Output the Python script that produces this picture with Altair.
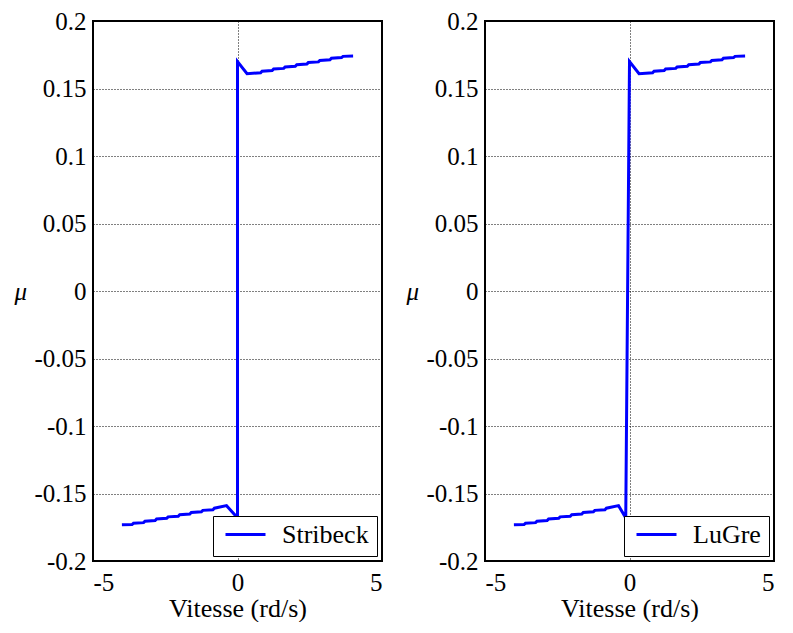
import altair as alt
import pandas as pd

# ---- data ----
stribeck_v = [-4.00, -3.65, -3.60, -3.25, -3.20, -2.85, -2.80, -2.45, -2.40, -2.05, -2.00,
              -1.65, -1.60, -1.25, -1.20, -0.85, -0.80, -0.38, 0.00,
              0.00, 0.33, 0.80, 0.85, 1.20, 1.25, 1.60, 1.65, 2.00, 2.05, 2.40, 2.45,
              2.80, 2.85, 3.20, 3.25, 3.60, 3.65, 4.00]
stribeck_mu = [-0.1732, -0.1730, -0.1721, -0.1716, -0.1705, -0.1700, -0.1689, -0.1684, -0.1673,
               -0.1668, -0.1657, -0.1652, -0.1641, -0.1636, -0.1625, -0.1620, -0.1609, -0.1590, -0.1680,
               0.1700, 0.1610, 0.1617, 0.1628, 0.1633, 0.1644, 0.1649, 0.1660, 0.1665, 0.1676,
               0.1681, 0.1692, 0.1697, 0.1708, 0.1713, 0.1724, 0.1729, 0.1738, 0.1740]

lugre_v = [-4.00, -3.65, -3.60, -3.25, -3.20, -2.85, -2.80, -2.45, -2.40, -2.05, -2.00,
           -1.65, -1.60, -1.25, -1.20, -0.85, -0.80, -0.38, -0.13,
           0.00, 0.33, 0.80, 0.85, 1.20, 1.25, 1.60, 1.65, 2.00, 2.05, 2.40, 2.45,
           2.80, 2.85, 3.20, 3.25, 3.60, 3.65, 4.00]
lugre_mu = [-0.1732, -0.1730, -0.1721, -0.1716, -0.1705, -0.1700, -0.1689, -0.1684, -0.1673,
            -0.1668, -0.1657, -0.1652, -0.1641, -0.1636, -0.1625, -0.1620, -0.1609, -0.1590, -0.1680,
            0.1700, 0.1610, 0.1617, 0.1628, 0.1633, 0.1644, 0.1649, 0.1660, 0.1665, 0.1676,
            0.1681, 0.1692, 0.1697, 0.1708, 0.1713, 0.1724, 0.1729, 0.1738, 0.1740]

x_ticks = [-5, 0, 5]
y_ticks = [-0.2, -0.15, -0.1, -0.05, 0, 0.05, 0.1, 0.15, 0.2]

FONT = "Liberation Serif"
FS = 25
TFS = 26
W, H = 289, 540
LABEL_EXPR = "(datum.value < 0 ? '-' : '') + format(abs(datum.value), '~g')"

AXIS_STYLE = dict(
    labelFont=FONT, labelFontSize=FS, labelColor="black",
    titleFont=FONT, titleColor="black", titleFontWeight="normal",
    domain=False, ticks=False,
    grid=True, gridColor="black", gridDash=[1, 2], gridWidth=1, gridOpacity=1,
)


def panel(name, v, mu):
    df = pd.DataFrame({"v": v, "mu": mu, "i": list(range(len(v))), "model": name})
    return alt.Chart(df).mark_line(strokeWidth=3, strokeJoin="miter").encode(
        x=alt.X("v:Q",
                scale=alt.Scale(domain=[-5, 5], nice=False, zero=False),
                axis=alt.Axis(values=x_ticks, title="Vitesse (rd/s)", labelExpr=LABEL_EXPR,
                              labelPadding=9, titleBaseline="alphabetic", titleY=55,
                              titleFontSize=TFS, **AXIS_STYLE)),
        y=alt.Y("mu:Q",
                scale=alt.Scale(domain=[-0.2, 0.2], nice=False, zero=False),
                axis=alt.Axis(values=y_ticks, title="μ", labelExpr=LABEL_EXPR,
                              labelPadding=7, titleAngle=0, titleAlign="left",
                              titleBaseline="middle", titleX=-79, titleY=H / 2,
                              titleFontSize=FS, titleFontStyle="italic", **AXIS_STYLE)),
        order="i:Q",
        color=alt.Color("model:N", scale=alt.Scale(range=["#0000ff"]),
                        legend=alt.Legend(title=None)),
    ).properties(width=W, height=H)


left = panel("Stribeck", stribeck_v, stribeck_mu)
right = panel("LuGre", lugre_v, lugre_mu)

chart = alt.hconcat(left, right, spacing=22).resolve_scale(color="independent").properties(
    padding={"left": 5, "top": 0, "right": 0, "bottom": 0},
    background="white",
).configure(
    font=FONT
).configure_view(
    stroke="black", strokeWidth=2
).configure_legend(
    orient="bottom-right", offset=5, padding=8,
    strokeColor="black", fillColor="white", cornerRadius=0,
    symbolType="stroke", symbolSize=1600, symbolStrokeWidth=3,
    symbolOffset=3, clipHeight=21,
    labelFont=FONT, labelFontSize=TFS, labelColor="black", labelOffset=15,
)

chart.save("out.html", embed_options={"renderer": "svg", "actions": False})
